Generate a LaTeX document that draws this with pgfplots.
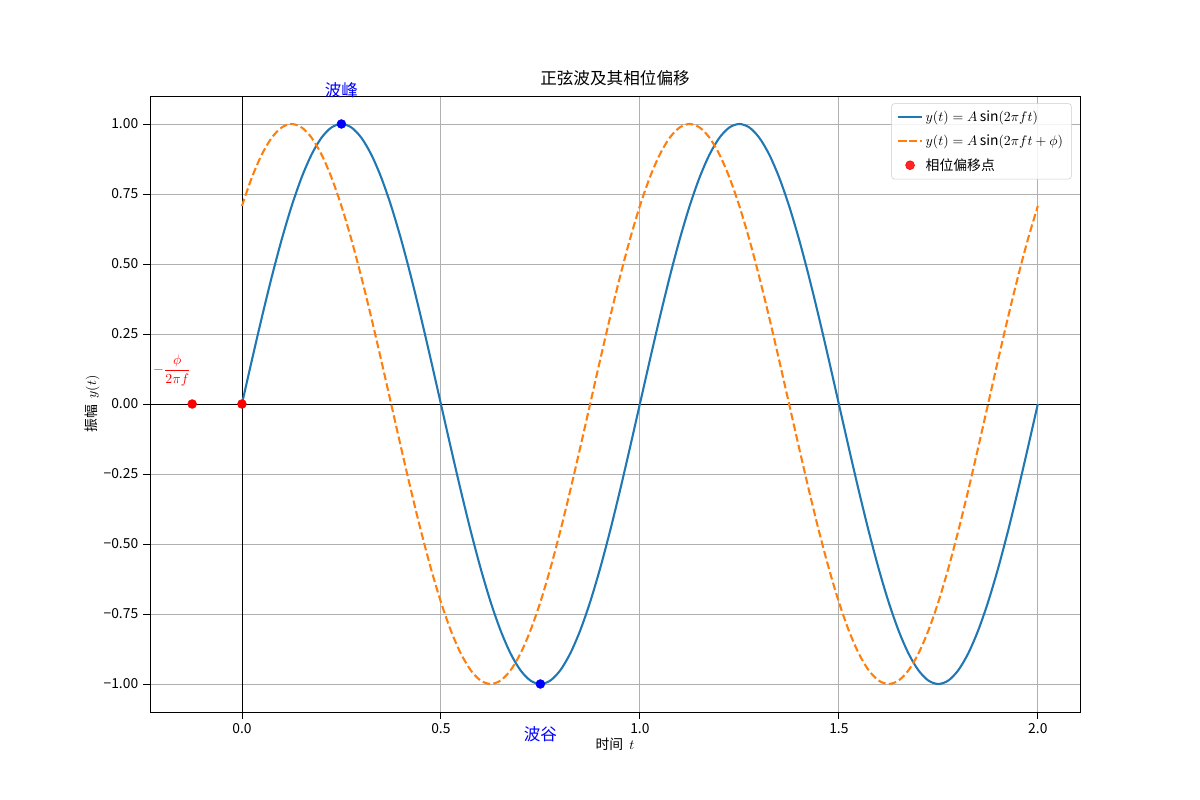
\documentclass[border=0pt]{standalone}
\usepackage{amsmath}
\usepackage{fontspec}
\setmainfont{Noto Sans CJK SC}
\usepackage{pgfplots}
\pgfplotsset{compat=1.18}

\definecolor{tabblue}{HTML}{1F77B4}
\definecolor{taborange}{HTML}{FF7F0E}

% t, y1 = sin(2 pi t), y2 = sin(2 pi t + pi/4)
\pgfplotstableread{
t y1 y2
0.000 0 0.7071
0.025 0.1564 0.8090
0.050 0.3090 0.8910
0.075 0.4540 0.9511
0.100 0.5878 0.9877
0.125 0.7071 1
0.150 0.8090 0.9877
0.175 0.8910 0.9511
0.200 0.9511 0.8910
0.225 0.9877 0.8090
0.250 1 0.7071
0.275 0.9877 0.5878
0.300 0.9511 0.4540
0.325 0.8910 0.3090
0.350 0.8090 0.1564
0.375 0.7071 0
0.400 0.5878 -0.1564
0.425 0.4540 -0.3090
0.450 0.3090 -0.4540
0.475 0.1564 -0.5878
0.500 0 -0.7071
0.525 -0.1564 -0.8090
0.550 -0.3090 -0.8910
0.575 -0.4540 -0.9511
0.600 -0.5878 -0.9877
0.625 -0.7071 -1
0.650 -0.8090 -0.9877
0.675 -0.8910 -0.9511
0.700 -0.9511 -0.8910
0.725 -0.9877 -0.8090
0.750 -1 -0.7071
0.775 -0.9877 -0.5878
0.800 -0.9511 -0.4540
0.825 -0.8910 -0.3090
0.850 -0.8090 -0.1564
0.875 -0.7071 0
0.900 -0.5878 0.1564
0.925 -0.4540 0.3090
0.950 -0.3090 0.4540
0.975 -0.1564 0.5878
1.000 0 0.7071
1.025 0.1564 0.8090
1.050 0.3090 0.8910
1.075 0.4540 0.9511
1.100 0.5878 0.9877
1.125 0.7071 1
1.150 0.8090 0.9877
1.175 0.8910 0.9511
1.200 0.9511 0.8910
1.225 0.9877 0.8090
1.250 1 0.7071
1.275 0.9877 0.5878
1.300 0.9511 0.4540
1.325 0.8910 0.3090
1.350 0.8090 0.1564
1.375 0.7071 0
1.400 0.5878 -0.1564
1.425 0.4540 -0.3090
1.450 0.3090 -0.4540
1.475 0.1564 -0.5878
1.500 0 -0.7071
1.525 -0.1564 -0.8090
1.550 -0.3090 -0.8910
1.575 -0.4540 -0.9511
1.600 -0.5878 -0.9877
1.625 -0.7071 -1
1.650 -0.8090 -0.9877
1.675 -0.8910 -0.9511
1.700 -0.9511 -0.8910
1.725 -0.9877 -0.8090
1.750 -1 -0.7071
1.775 -0.9877 -0.5878
1.800 -0.9511 -0.4540
1.825 -0.8910 -0.3090
1.850 -0.8090 -0.1564
1.875 -0.7071 0
1.900 -0.5878 0.1564
1.925 -0.4540 0.3090
1.950 -0.3090 0.4540
1.975 -0.1564 0.5878
2.000 0 0.7071
}\wavedata

\begin{document}
\begin{tikzpicture}
\begin{axis}[
  name=main,
  scale only axis,
  clip=false,
  width=9.3in, height=6.16in,
  xmin=-0.231, xmax=2.106,
  ymin=-1.1, ymax=1.1,
  xtick={0,0.5,1,1.5,2},
  xticklabels={0.0,0.5,1.0,1.5,2.0},
  ytick={-1,-0.75,-0.5,-0.25,0,0.25,0.5,0.75,1},
  yticklabels={−1.00,−0.75,−0.50,−0.25,0.00,0.25,0.50,0.75,1.00},
  tick label style={font=\fontsize{10}{12}\selectfont},
  tick align=outside,
  major tick length=5pt,
  tick style={black, line width=0.6pt},
  xtick pos=bottom, ytick pos=left,
  axis line style={black, line width=0.6pt},
  grid=major,
  major grid style={color=black!31, line width=0.6pt},
  title={正弦波及其相位偏移},
  title style={font=\fontsize{12}{14}\selectfont, yshift=-2pt},
  xlabel={时间\ \ $t$},
  ylabel={振幅\ \ $y(t)$},
  label style={font=\fontsize{10}{12}\selectfont},
  xlabel style={yshift=4pt},
  ylabel style={yshift=-4pt},
  legend style={at={(0.991,0.988)}, anchor=north east,
    font=\fontsize{10}{12}\selectfont,
    draw=black!20, rounded corners=2pt, fill=white, fill opacity=0.85, text opacity=1,
    row sep=4pt, inner xsep=4pt, inner ysep=3pt},
  legend cell align=left,
]
\addplot[black, line width=0.5pt, forget plot] coordinates {(-0.231,0) (2.106,0)};
\addplot[black, line width=0.5pt, forget plot] coordinates {(0,-1.1) (0,1.1)};
\addplot[tabblue, line width=1.5pt, smooth] table[x=t, y=y1] {\wavedata};
\addlegendentry{$y(t)=A\sin(2\pi ft)$}
\addplot[taborange, line width=1.5pt, smooth, dash pattern=on 5.5pt off 2.4pt] table[x=t, y=y2] {\wavedata};
\addlegendentry{$y(t)=A\sin(2\pi ft+\phi)$}
\addplot[only marks, mark=*, mark size=3.2pt, color=red] coordinates {(-0.125,0) (0,0)};
\addlegendentry{相位偏移点}
\addplot[only marks, mark=*, mark size=3.2pt, color=blue, forget plot] coordinates {(0.25,1) (0.75,-1)};
\node[blue, font=\fontsize{12}{14}\selectfont] at (axis cs:0.25,1.122) {波峰};
\node[blue, font=\fontsize{12}{14}\selectfont] at (axis cs:0.75,-1.18) {波谷};
\node[red, font=\fontsize{10}{12}\selectfont, inner sep=1pt] at (axis cs:-0.176,0.12) {$\displaystyle-\frac{\phi}{2\pi f}$};
\end{axis}
\path[use as bounding box] (main.south west) ++(-1.5in,-0.88in) rectangle ++(12in,8in);
\end{tikzpicture}
\end{document}
